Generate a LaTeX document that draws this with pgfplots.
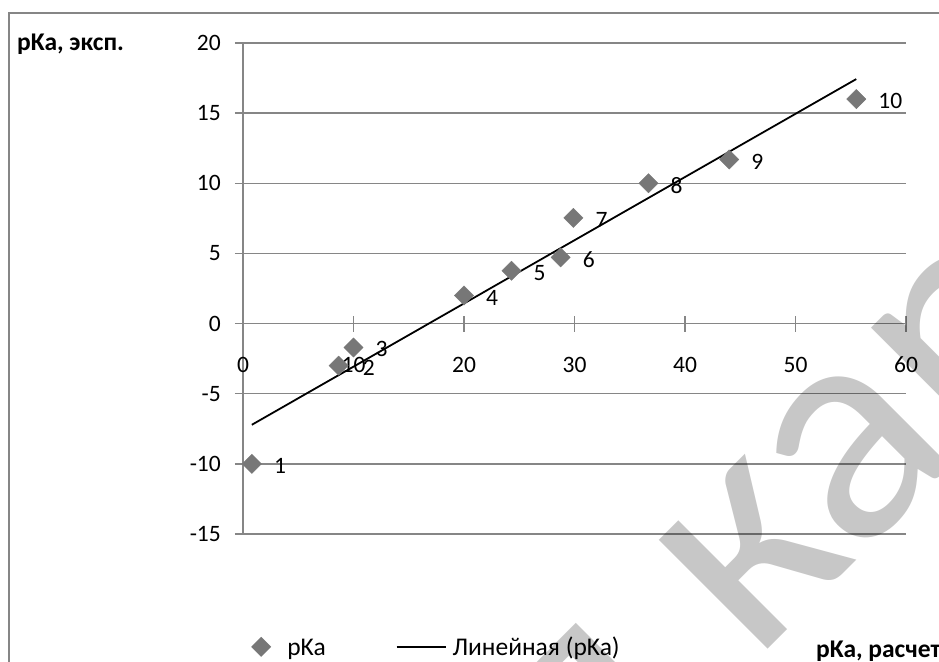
\documentclass[border=0pt]{standalone}
\usepackage{fontspec}
\setmainfont{Carlito}
\usepackage{pgfplots}
\pgfplotsset{compat=1.18}
\definecolor{gridgray}{HTML}{868686}
\definecolor{markgray}{HTML}{777777}
\newcommand\chf{\fontsize{23.5bp}{28bp}\selectfont}
\newcommand\lgf{\fontsize{25.5bp}{30bp}\selectfont}
\newcommand\ttf{\fontsize{25.5bp}{30bp}\selectfont\bfseries}
\pgfplotsset{
  scatlegend/.style={legend image code/.code={\draw[##1] plot coordinates {(0bp,9bp)};}},
  linelegend/.style={legend image code/.code={\draw[##1] (0bp,9bp) -- (49bp,9bp);}},
}
\begin{document}
\begin{tikzpicture}
\clip (0,0) rectangle (939bp,-662bp);
\fill[white] (0,0) rectangle (939bp,-662bp);
\draw[gridgray, line width=1.5bp] (9bp,-670bp) -- (9bp,-13bp) -- (950bp,-13bp);
\begin{axis}[
  at={(243bp,-534bp)}, anchor=south west,
  scale only axis, width=663bp, height=491bp,
  xmin=0, xmax=60, ymin=-15, ymax=20,
  axis x line=middle, axis y line=left,
  hide obscured x ticks=false, hide obscured y ticks=false,
  axis line style={-, draw=gridgray, line width=1.3bp},
  xtick={0,10,20,30,40,50,60}, xticklabels={0,10,20,30,40,50,60},
  ytick={-15,-10,-5,0,5,10,15,20}, yticklabels={-15,-10,-5,0,5,10,15,20},
  tick align=center, major tick length=16bp,
  tick style={draw=gridgray, line width=1.3bp},
  ymajorgrids, major grid style={draw=gridgray, line width=1.3bp},
  ticklabel style={font=\chf, text=black},
  xticklabel style={anchor=center, inner sep=0pt, yshift=-33bp},
  yticklabel style={anchor=east, inner sep=0pt, xshift=-14bp},
  clip=false,
  legend style={at={(rel axis cs:0,0)}, anchor=north west, xshift=8.4bp, yshift=-103bp,
    draw=none, fill=none, font=\lgf, inner sep=0pt, legend columns=2,
    nodes={inner sep=0pt},
    /tikz/column 1/.style={column sep=16.5bp},
    /tikz/column 2/.style={column sep=70bp},
    /tikz/column 3/.style={column sep=6bp}},
  legend cell align=left,
  legend style={cells={anchor=base west}},
]
\addplot[only marks, mark=square*, mark size=6.8bp,
  mark options={rotate=45, fill=markgray, draw=markgray},
  nodes near coords, point meta=explicit symbolic,
  nodes near coords style={anchor=west, inner sep=0pt, xshift=22bp, yshift=-2bp, font=\chf, text=black},
  scatlegend]
coordinates {
(0.8,-10) [1]
(8.65,-3.0) [\hspace{2bp}2]
(10.0,-1.7) [3]
(20.0,2.0) [4]
(24.3,3.77) [5]
(28.75,4.72) [6]
(29.9,7.53) [7]
(36.7,10.0) [8]
(44.0,11.7) [9]
(55.5,16.0) [10]
};
\addlegendentry{pKa}
\addplot[black, line width=1.8bp, no marks, linelegend]
coordinates {(0.8,-7.215) (55.5,17.43)};
\addlegendentry{Линейная (pKa)}
\node[anchor=base west, inner sep=0pt, font=\ttf, xshift=-226bp, yshift=-7bp] at (rel axis cs:0,1) {pKa, эксп.};
\node[anchor=base west, inner sep=0pt, font=\ttf, xshift=573bp, yshift=-123bp] at (rel axis cs:0,0) {pKa, расчетн.};
\end{axis}
\node[rotate=45, anchor=base west, inner sep=0pt, text=black, text opacity=0.22, font=\fontsize{322bp}{330bp}\selectfont] at (753bp,-664bp) {карта};
\node[rotate=45, anchor=base east, inner sep=0pt, text=black, text opacity=0.22, font=\fontsize{322bp}{330bp}\selectfont] at (701bp,-716bp) {ая};
\end{tikzpicture}
\end{document}
